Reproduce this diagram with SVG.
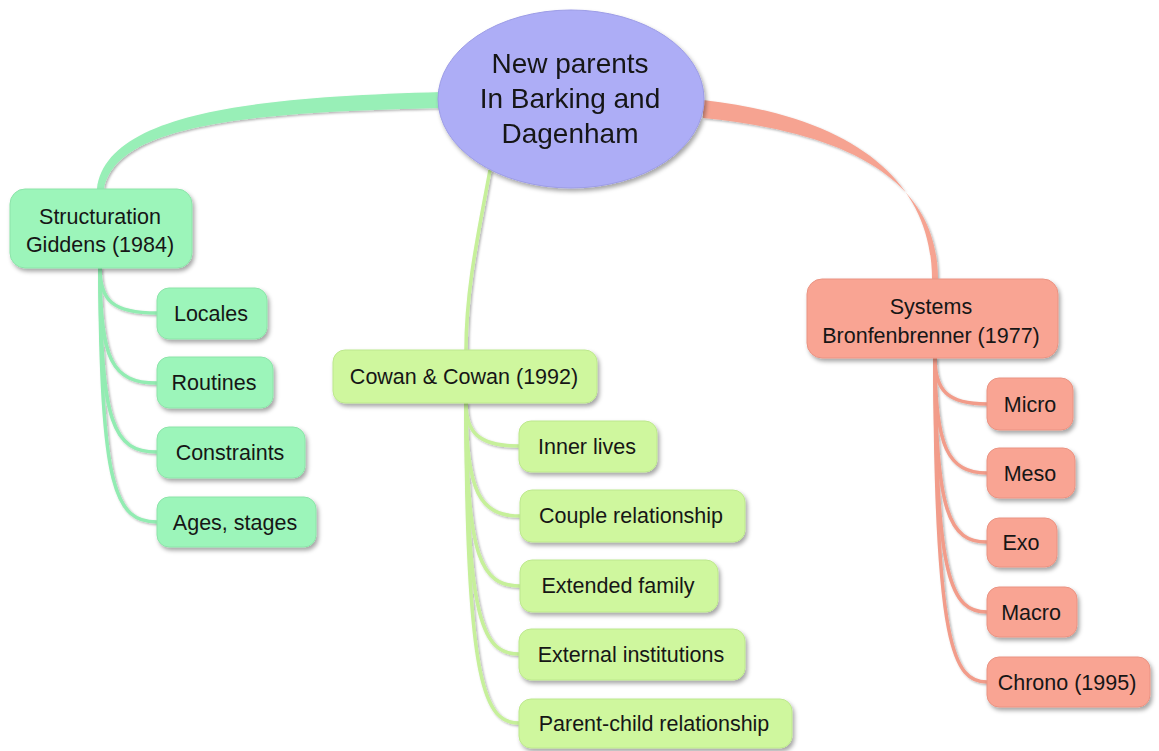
<svg xmlns="http://www.w3.org/2000/svg" width="1159" height="751" viewBox="0 0 1159 751">
<defs>
<filter id="sh" x="-20%" y="-20%" width="140%" height="160%">
<feDropShadow dx="2" dy="3" stdDeviation="2" flood-color="#000" flood-opacity="0.35"/>
</filter>
<filter id="lsh" x="-20%" y="-20%" width="140%" height="140%">
<feDropShadow dx="1.5" dy="1.5" stdDeviation="1" flood-color="#000" flood-opacity="0.3"/>
</filter>
<style>
text{font-family:"Liberation Sans",Arial,sans-serif;fill:#161616;text-anchor:middle}
.t{font-size:21.5px}
.c{font-size:28px}
.g rect{fill:#9cf5ba;stroke:#8ce4a9;stroke-width:1}
.y rect{fill:#cff79e;stroke:#bde88d;stroke-width:1}
.r rect{fill:#f9a493;stroke:#ea9382;stroke-width:1}
.lg{fill:none;stroke:#92ecb2;stroke-width:3.5}
.ly{fill:none;stroke:#c6f09a;stroke-width:3.5}
.lr{fill:none;stroke:#f29c8a;stroke-width:3.5}
</style>
</defs>
<rect width="1159" height="751" fill="#fff"/>

<g id="connectors" filter="url(#lsh)">
<path d="M 442 92 C 250 97, 106 114, 97 189 L 104 189 C 116 124, 252 112, 442 108 Z" fill="#98efb7"/>
<path d="M 703 100 C 860 118, 932 185, 932 279 L 938 279 C 938 190, 866 134, 703 118 Z" fill="#f6a391"/>
<path class="ly" d="M 490 170 C 478 235, 466 290, 466 350" stroke-width="3"/>
<path class="lg" d="M 100 268 C 100 300, 112 313, 157 313"/>
<path class="lg" d="M 100 268 C 100 360, 112 383, 157 383"/>
<path class="lg" d="M 100 268 C 100 425, 114 452, 157 452"/>
<path class="lg" d="M 100 268 C 100 490, 116 522, 157 522"/>
<path class="ly" d="M 466 403 C 466 432, 478 446, 519 446"/>
<path class="ly" d="M 466 403 C 466 492, 480 516, 520 516"/>
<path class="ly" d="M 466 403 C 466 560, 482 586, 520 586"/>
<path class="ly" d="M 466 403 C 466 625, 484 654, 519 654"/>
<path class="ly" d="M 466 403 C 466 690, 486 723, 519 723"/>
<path class="lr" d="M 935 358 C 935 390, 947 404, 987 404"/>
<path class="lr" d="M 935 358 C 935 447, 948 473, 987 473"/>
<path class="lr" d="M 935 358 C 935 515, 950 542, 987 542"/>
<path class="lr" d="M 935 358 C 935 582, 952 612, 987 612"/>
<path class="lr" d="M 935 358 C 935 648, 954 682, 987 682"/>
</g>

<g id="central" filter="url(#sh)">
<ellipse cx="571" cy="99" rx="133" ry="89" fill="#adadf6" stroke="#9c9ce6" stroke-width="1"/>
<text class="c" x="570" y="73">New parents</text>
<text class="c" x="570" y="108">In Barking and</text>
<text class="c" x="570" y="143">Dagenham</text>
</g>

<g id="structuration" class="g">
<rect x="10" y="189" width="182" height="79" rx="15" filter="url(#sh)"/>
<text class="t" x="100" y="224">Structuration</text>
<text class="t" x="100" y="252">Giddens (1984)</text>
</g>
<g id="locales" class="g">
<rect x="157" y="288" width="110" height="51" rx="12" filter="url(#sh)"/>
<text class="t" x="211" y="321">Locales</text>
</g>
<g id="routines" class="g">
<rect x="157" y="357" width="116" height="51" rx="12" filter="url(#sh)"/>
<text class="t" x="214" y="390">Routines</text>
</g>
<g id="constraints" class="g">
<rect x="157" y="427" width="148" height="51" rx="12" filter="url(#sh)"/>
<text class="t" x="230" y="460">Constraints</text>
</g>
<g id="ages" class="g">
<rect x="157" y="497" width="159" height="50" rx="12" filter="url(#sh)"/>
<text class="t" x="235" y="530">Ages, stages</text>
</g>

<g id="cowan" class="y">
<rect x="333" y="350" width="264" height="53" rx="12" filter="url(#sh)"/>
<text class="t" x="464" y="384">Cowan &amp; Cowan (1992)</text>
</g>
<g id="inner" class="y">
<rect x="519" y="421" width="138" height="51" rx="12" filter="url(#sh)"/>
<text class="t" x="587" y="454">Inner lives</text>
</g>
<g id="couple" class="y">
<rect x="520" y="490" width="225" height="52" rx="12" filter="url(#sh)"/>
<text class="t" x="631" y="523">Couple relationship</text>
</g>
<g id="extended" class="y">
<rect x="520" y="560" width="198" height="52" rx="12" filter="url(#sh)"/>
<text class="t" x="618" y="593">Extended family</text>
</g>
<g id="external" class="y">
<rect x="519" y="629" width="226" height="51" rx="12" filter="url(#sh)"/>
<text class="t" x="631" y="662">External institutions</text>
</g>
<g id="parentchild" class="y">
<rect x="519" y="699" width="273" height="49" rx="12" filter="url(#sh)"/>
<text class="t" x="654" y="731">Parent-child relationship</text>
</g>

<g id="systems" class="r">
<rect x="807" y="279" width="251" height="79" rx="15" filter="url(#sh)"/>
<text class="t" x="931" y="314">Systems</text>
<text class="t" x="931" y="343">Bronfenbrenner (1977)</text>
</g>
<g id="micro" class="r">
<rect x="987" y="378" width="86" height="52" rx="12" filter="url(#sh)"/>
<text class="t" x="1030" y="412">Micro</text>
</g>
<g id="meso" class="r">
<rect x="987" y="448" width="88" height="50" rx="12" filter="url(#sh)"/>
<text class="t" x="1030" y="481">Meso</text>
</g>
<g id="exo" class="r">
<rect x="987" y="518" width="70" height="49" rx="12" filter="url(#sh)"/>
<text class="t" x="1021" y="550">Exo</text>
</g>
<g id="macro" class="r">
<rect x="987" y="587" width="90" height="50" rx="12" filter="url(#sh)"/>
<text class="t" x="1031" y="620">Macro</text>
</g>
<g id="chrono" class="r">
<rect x="987" y="657" width="163" height="50" rx="12" filter="url(#sh)"/>
<text class="t" x="1067" y="690">Chrono (1995)</text>
</g>
</svg>
